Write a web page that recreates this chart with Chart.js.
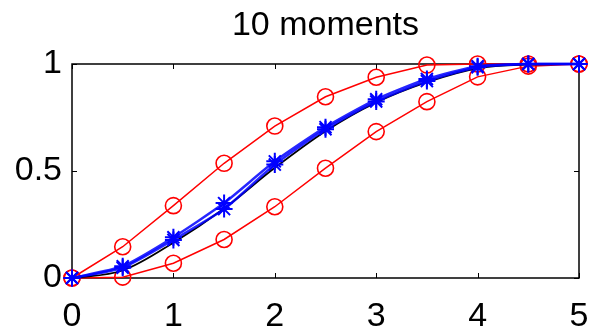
<!DOCTYPE html>
<html>
<head>
<meta charset="utf-8">
<script src="https://cdn.jsdelivr.net/npm/chart.js@4"></script>
<style>
  body { margin: 0; background: #fff; }
  #wrap { width: 591px; height: 327px; position: relative; }
</style>
</head>
<body>
<div id="wrap"><canvas id="momentsChart"></canvas></div>
<script>
// sample points on the x axis
const xs = [0, 0.5, 1, 1.5, 2, 2.5, 3, 3.5, 4, 4.5, 5];
// red bounds (circles)
const upperBound = [0, 0.146, 0.338, 0.536, 0.71, 0.847, 0.938, 0.995, 1, 1, 1];
const lowerBound = [0, 0.004, 0.069, 0.18, 0.333, 0.513, 0.684, 0.824, 0.94, 0.99, 1];
// blue estimates (stars)
const blueA = [0, 0.055, 0.19, 0.35, 0.545, 0.705, 0.835, 0.93, 0.99, 1, 1];
const blueB = [0, 0.048, 0.178, 0.322, 0.53, 0.695, 0.825, 0.92, 0.985, 1, 1];
// black reference curve
const trueCurve = [0, 0.035, 0.165, 0.325, 0.515, 0.686, 0.82, 0.915, 0.98, 0.997, 1];
const xTicks = [0, 1, 2, 3, 4, 5];
const yTicks = [0, 0.5, 1];

const FONT = '"Liberation Sans", Arial, sans-serif';

function toPoints(vals) {
  return xs.map((x, i) => ({ x: x, y: vals[i] }));
}

// box round the plot with inward ticks, like matlab axes
const boxPlugin = {
  id: 'box',
  beforeDatasetsDraw(chart) {
    const ctx = chart.ctx;
    const a = chart.chartArea;
    const sx = chart.scales.x, sy = chart.scales.y;
    ctx.save();
    ctx.strokeStyle = '#000';
    ctx.lineWidth = 1.5;
    ctx.strokeRect(a.left, a.top, a.right - a.left, a.bottom - a.top);
    ctx.lineWidth = 1;
    ctx.beginPath();
    xTicks.forEach(v => {
      const px = Math.round(sx.getPixelForValue(v)) + 0.5;
      ctx.moveTo(px, a.bottom); ctx.lineTo(px, a.bottom - 5);
      ctx.moveTo(px, a.top); ctx.lineTo(px, a.top + 5);
    });
    yTicks.forEach(v => {
      const py = Math.round(sy.getPixelForValue(v)) + 0.5;
      ctx.moveTo(a.left, py); ctx.lineTo(a.left + 5, py);
      ctx.moveTo(a.right, py); ctx.lineTo(a.right - 5, py);
    });
    ctx.stroke();
    ctx.restore();
  }
};

function redSet(vals) {
  return {
    data: toPoints(vals),
    borderColor: 'rgb(255,0,0)',
    borderWidth: 1.5,
    pointStyle: 'circle',
    pointRadius: 8,
    pointBorderWidth: 1.6,
    pointBorderColor: 'rgb(255,0,0)',
    pointBackgroundColor: 'rgba(0,0,0,0)',
    showLine: true,
    tension: 0,
    clip: false,
    order: 3
  };
}

function blueSet(vals) {
  return {
    data: toPoints(vals),
    borderColor: 'rgba(0,0,255,0.85)',
    borderWidth: 2.5,
    pointStyle: 'star',
    pointRadius: 8.5,
    pointBorderWidth: 2,
    pointBorderColor: 'rgb(0,0,255)',
    pointBackgroundColor: 'rgb(0,0,255)',
    showLine: true,
    tension: 0.2,
    clip: false,
    order: 1
  };
}

const ctx = document.getElementById('momentsChart').getContext('2d');
new Chart(ctx, {
  type: 'scatter',
  data: {
    datasets: [
      redSet(upperBound),
      redSet(lowerBound),
      blueSet(blueA),
      blueSet(blueB),
      {
        data: toPoints(trueCurve),
        borderColor: '#000',
        borderWidth: 1.8,
        pointRadius: 0,
        showLine: true,
        cubicInterpolationMode: 'monotone',
        clip: false,
        order: 2
      }
    ]
  },
  options: {
    responsive: true,
    maintainAspectRatio: false,
    animation: false,
    events: [],
    layout: { padding: { left: 0, right: 12, top: 0, bottom: 0 } },
    plugins: {
      legend: { display: false },
      tooltip: { enabled: false },
      title: {
        display: true,
        fullSize: false,
        text: '10 moments',
        color: '#000',
        font: { family: FONT, size: 34, weight: 'normal', lineHeight: 1.2 },
        padding: { top: 5, bottom: 18.2 }
      }
    },
    scales: {
      x: {
        type: 'linear',
        min: 0,
        max: 5,
        afterFit: s => { s.height = 49; s.paddingLeft = 0; s.paddingRight = 0; },
        afterBuildTicks: s => { s.ticks = xTicks.map(v => ({ value: v })); },
        grid: { display: false, drawTicks: false },
        border: { display: false },
        ticks: {
          color: '#000',
          padding: 18,
          maxRotation: 0,
          font: { family: FONT, size: 34 }
        }
      },
      y: {
        type: 'linear',
        min: 0,
        max: 1,
        afterFit: s => { s.width = 72; s.paddingTop = 0; s.paddingBottom = 0; },
        afterBuildTicks: s => { s.ticks = yTicks.map(v => ({ value: v })); },
        grid: { display: false, drawTicks: false },
        border: { display: false },
        ticks: {
          color: '#000',
          padding: 10,
          font: { family: FONT, size: 34 },
          callback: v => String(v)
        }
      }
    }
  },
  plugins: [boxPlugin]
});
</script>
</body>
</html>
